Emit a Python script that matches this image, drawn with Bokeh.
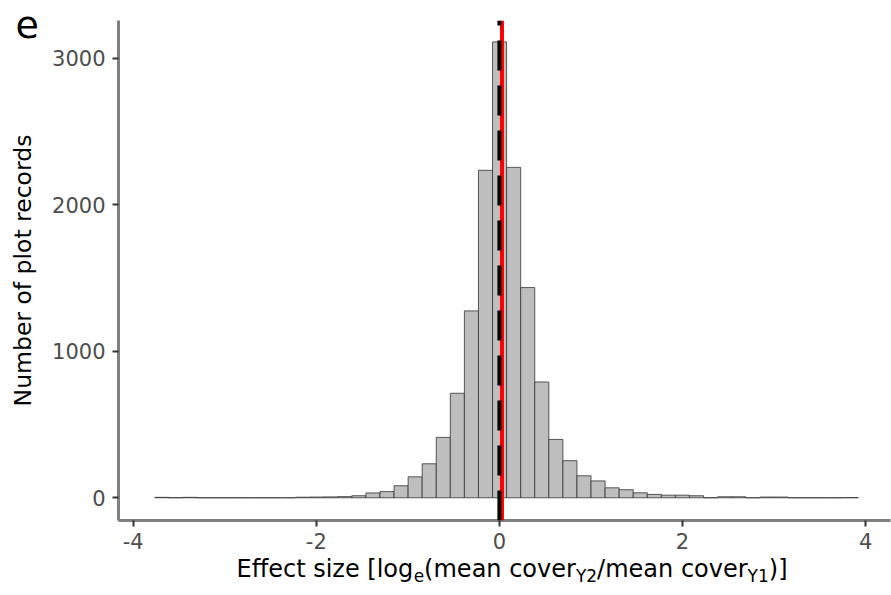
import numpy as np
from bokeh.plotting import figure
from bokeh.models import Range1d, Span, FixedTicker, ColumnDataSource
from bokeh.layouts import row, column
from bokeh.core.properties import value
from bokeh.embed import file_html
from bokeh.resources import INLINE

# ---- data ----
bin_start = -3.764
bin_width = 0.1537
counts = [3, 0, 3, 0, 0, 0, 0, 0, 0, 0,
          4, 5, 6, 8, 14, 33, 42, 82, 143, 232,
          412, 713, 1275, 2234, 3110, 2254, 1434, 790, 398, 253,
          150, 115, 68, 55, 34, 23, 18, 18, 14, 0,
          7, 7, 0, 5, 5, 0, 0, 0, 0, 1]
x_ticks = [-4, -2, 0, 2, 4]
x_tick_labels = ["-4", "-2", "0", "2", "4"]
y_ticks = [0, 1000, 2000, 3000]
median_x = 0.0
mean_x = 0.028
panel_tag = "e"
y_title = "Number of plot records"
x_title_parts = [("Effect size [log", False), ("e", True), ("(mean cover", False),
                 ("Y2", True), ("/mean cover", False), ("Y1", True), (")]", False)]

FONT = "DejaVu Sans"
TOTAL_W, TOTAL_H = 891, 595
LEFT_W = 46          # strip holding panel tag and y title
TOP_H = 555          # height of upper row
BOT_H = TOTAL_H - TOP_H
BASE = 0.375         # empirical offset of the "alphabetic" anchor, in em

# ---------------- main histogram ----------------
left = bin_start + bin_width * np.arange(len(counts))
src = ColumnDataSource(dict(left=left, right=left + bin_width, top=counts))

p = figure(width=TOTAL_W - LEFT_W, height=TOP_H, output_backend="svg", toolbar_location=None,
           title=None, x_range=Range1d(-4.161, 4.272), y_range=Range1d(-155, 3256),
           min_border_left=118 - LEFT_W, min_border_right=1, min_border_top=20,
           min_border_bottom=TOP_H - 520)
p.frame_align = False
p.grid.visible = False
p.outline_line_color = None
p.background_fill_color = "white"
p.border_fill_color = "white"

p.quad(left="left", right="right", top="top", bottom=0, source=src,
       fill_color="#BEBEBE", line_color="#333333", line_width=0.8)

p.add_layout(Span(location=mean_x, dimension="height", line_color="#FF0000", line_width=4))
p.add_layout(Span(location=median_x, dimension="height", line_color="black", line_width=4,
                  line_dash="30 15", line_dash_offset=25))

for ax, ticks in ((p.xaxis, x_ticks), (p.yaxis, y_ticks)):
    ax.ticker = FixedTicker(ticks=ticks)
    ax.minor_tick_line_color = None
    ax.axis_line_color = "#7F7F7F"
    ax.axis_line_width = 3
    ax.major_tick_line_color = "#333333"
    ax.major_tick_line_width = 2
    ax.major_tick_out = 6
    ax.major_tick_in = 0
    ax.major_label_text_font = FONT
    ax.major_label_text_font_size = "21px"
    ax.major_label_text_color = "#4D4D4D"
p.xaxis.major_label_overrides = {t: lab for t, lab in zip(x_ticks, x_tick_labels)}
p.xaxis.major_label_standoff = 6
p.yaxis.major_label_standoff = 7

# ---------------- helper strips (text only) ----------------
def blank(w, h):
    f = figure(width=w, height=h, output_backend="svg", toolbar_location=None, title=None,
               x_range=Range1d(0, w), y_range=Range1d(h, 0),
               min_border=0, x_axis_location=None, y_axis_location=None)
    f.frame_align = False
    f.grid.visible = False
    f.outline_line_color = None
    f.background_fill_color = "white"
    f.border_fill_color = "white"
    return f

TAG_SIZE, YT_SIZE = 38, 23.5
lf = blank(LEFT_W, TOP_H)
lf.text(x=[15], y=[38.5 - BASE * TAG_SIZE], text=[panel_tag], text_font=value(FONT),
        text_font_size=f"{TAG_SIZE}px", text_color="black",
        text_baseline="alphabetic", text_align="left")
lf.text(x=[31.1 - BASE * YT_SIZE], y=[270], text=[y_title], angle=np.pi / 2,
        text_font=value(FONT), text_font_size=f"{YT_SIZE}px", text_color="black",
        text_baseline="alphabetic", text_align="center")

adv = {"E": 632, "f": 352, "e": 615, "c": 550, "t": 392, " ": 318, "s": 521, "i": 278,
       "z": 525, "[": 390, "l": 278, "o": 612, "g": 635, "(": 390, "m": 974, "a": 613,
       "n": 634, "v": 592, "r": 411, "Y": 611, "2": 636, "/": 337, "1": 636, ")": 390,
       "]": 390}
MAIN, SUB = 24, 17
def width(s, size):
    return sum(adv.get(ch, 600) for ch in s) * size / 1000.0
total = sum(width(t, SUB if sub else MAIN) for t, sub in x_title_parts)
x0 = 511.5 - total / 2
xs, ys, ts, ss = [], [], [], []
for t, sub in x_title_parts:
    size = SUB if sub else MAIN
    base_y = 581.5 if sub else 577.5
    xs.append(x0)
    ys.append(base_y - TOP_H - BASE * size)
    ts.append(t)
    ss.append(f"{size}px")
    x0 += width(t, size)

bf = blank(TOTAL_W, BOT_H)
bf.text(x="x", y="y", text="text", text_font_size="size",
        source=ColumnDataSource(dict(x=xs, y=ys, text=ts, size=ss)),
        text_font=value(FONT), text_color="black", text_baseline="alphabetic",
        text_align="left")

layout = column(row(lf, p), bf)
open("out.html", "w").write(file_html(layout, INLINE))
